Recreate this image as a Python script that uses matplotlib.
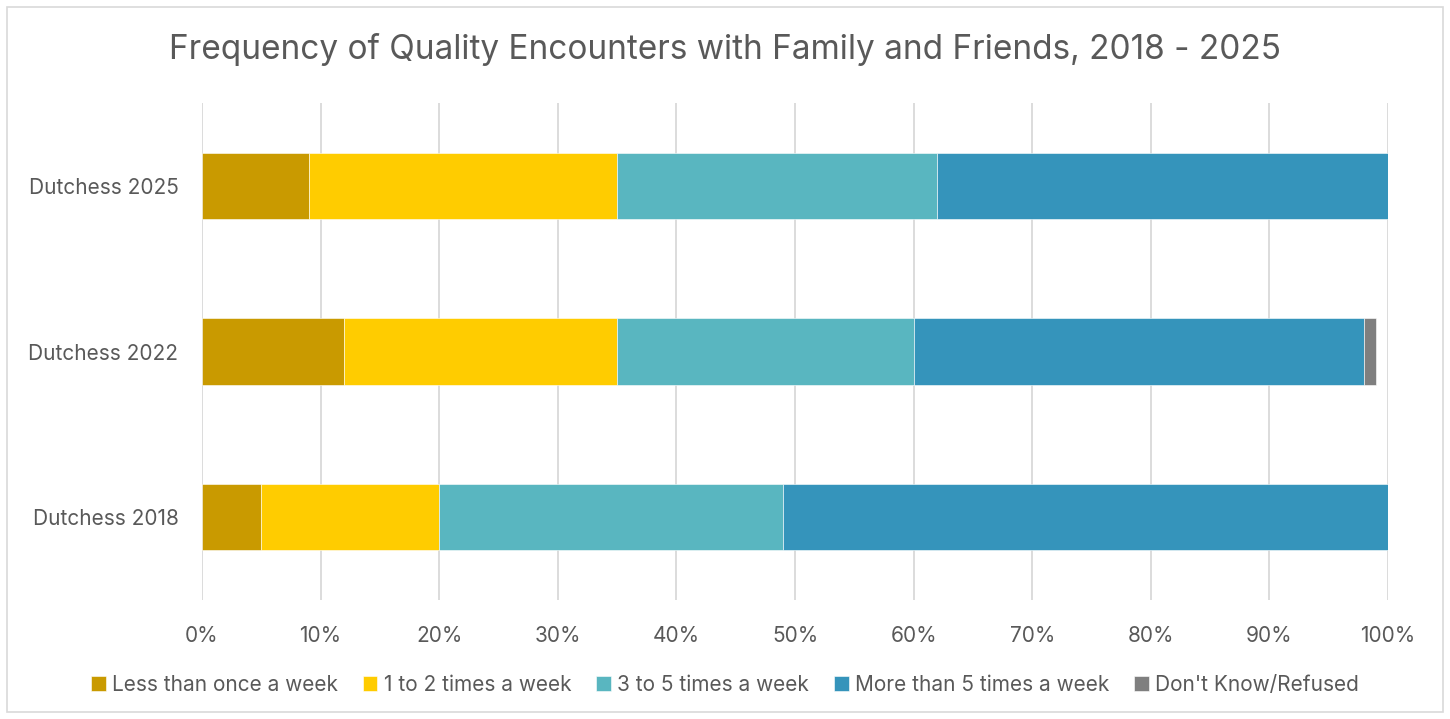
import matplotlib.pyplot as plt
from matplotlib.patches import Rectangle

categories = ["Dutchess 2018", "Dutchess 2022", "Dutchess 2025"]
series_names = [
    "Less than once a week",
    "1 to 2 times a week",
    "3 to 5 times a week",
    "More than 5 times a week",
    "Don't Know/Refused",
]
less_than_once = [5, 12, 9]
one_to_two = [15, 23, 26]
three_to_five = [29, 25, 27]
more_than_five = [51, 38, 38]
dont_know = [0, 1, 0]
colors = ["#C99A00", "#FFCC00", "#59B6C0", "#3594BB", "#7F7F7F"]

plt.rcParams["font.family"] = ["Inter", "DejaVu Sans"]
text_color = "#595959"

fig = plt.figure(figsize=(14.5, 7.19), dpi=100)
ax = fig.add_axes([202 / 1450, 1 - 600 / 719, 1186 / 1450, 497 / 719])

series = [less_than_once, one_to_two, three_to_five, more_than_five, dont_know]
left = [0, 0, 0]
for name, vals, color in zip(series_names, series, colors):
    ax.barh(categories, vals, left=left, height=0.4, color=color, label=name,
            edgecolor="white", linewidth=0.4, zorder=3)
    left = [l + v for l, v in zip(left, vals)]

ax.set_xlim(0, 100)
ax.set_ylim(-0.5, 2.5)
ax.set_xticks(range(0, 101, 10))
ax.set_xticklabels([f"{t}%" for t in range(0, 101, 10)])
ax.grid(axis="x", color="#D9D9D9", linewidth=1.3, zorder=0)
for s in ax.spines.values():
    s.set_visible(False)
ax.tick_params(length=0, labelsize=15, colors=text_color)
ax.tick_params(axis="x", pad=19)
ax.tick_params(axis="y", pad=17)

fig.suptitle("Frequency of Quality Encounters with Family and Friends, 2018 - 2025",
             x=0.5, y=1 - 49 / 719, va="center", fontsize=24, color=text_color)

handles, labels = ax.get_legend_handles_labels()
fig.legend(handles, labels, loc="center", bbox_to_anchor=(0.5, 1 - 685 / 719),
           ncol=5, frameon=False, fontsize=15, labelcolor=text_color,
           handlelength=0.7, handleheight=0.7, handletextpad=0.3, columnspacing=1.2)

fig.patches.append(Rectangle((7 / 1450, 7 / 719), 1436 / 1450, 705 / 719,
                             transform=fig.transFigure, fill=False,
                             edgecolor="#D9D9D9", linewidth=1.2))

fig.savefig("out.png", dpi=100)
